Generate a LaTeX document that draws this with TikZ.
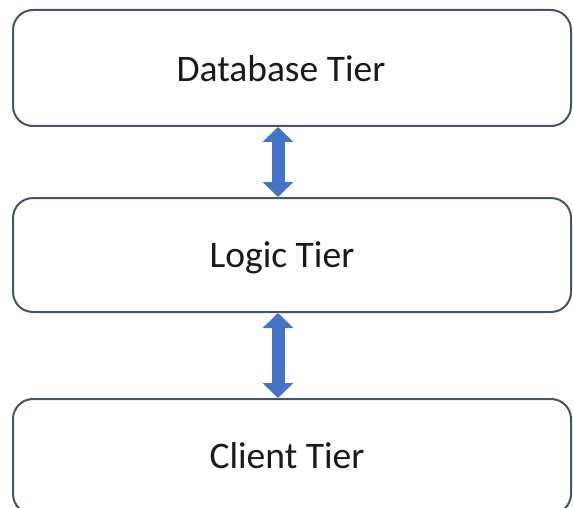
\documentclass[tikz,border=0pt]{standalone}
\usepackage{fontspec}
\setmainfont{Carlito}
\usepackage{tikz}
\usetikzlibrary{arrows.meta}
\usetikzlibrary{positioning}

\definecolor{tierline}{HTML}{44546A}
\definecolor{arrowblue}{HTML}{4472C4}

\begin{document}
\begin{tikzpicture}[
            x=1pt,
            y=-1pt,
            tier/.style={
                rectangle,
                rounded corners=20pt,
                draw=tierline,
                fill=white,
                line width=2pt,
                minimum width=558pt,
                inner sep=0pt
            },
            lab/.style={
                font=\fontsize{37.5}{42}\selectfont,
                text=black!90,
                anchor=base
            },
            ed/.style={
                draw=arrowblue,
                line width=13pt,
                {Triangle[width=30pt,length=15pt]}-{Triangle[width=30pt,length=15pt]}
            }
        ]

            % Page
            \fill[white] (0,0) rectangle (573,508);
            \useasboundingbox (0,0) rectangle (573,508);
            \clip (0,0) rectangle (573,508);

            % Tiers
            \node[tier, minimum height=116pt] (db) at (292,68) {};
            \node[tier, minimum height=114pt] (logic) at (292,255) {};
            \node[tier, minimum height=115pt] (client) at (292,456.5) {};

            % Tier names
            \node[lab] (dbname) at (281,82) {Database Tier};
            \node[lab] (logicname) at (282,267) {Logic Tier};
            \node[lab] (clientname) at (287,468) {Client Tier};

            % Links between tiers
            \draw[ed] ([xshift=-14pt]db.south) -- ([xshift=-14pt]logic.north);
            \draw[ed] ([xshift=-14pt]logic.south) -- ([xshift=-14pt]client.north);

        \end{tikzpicture}
\end{document}
